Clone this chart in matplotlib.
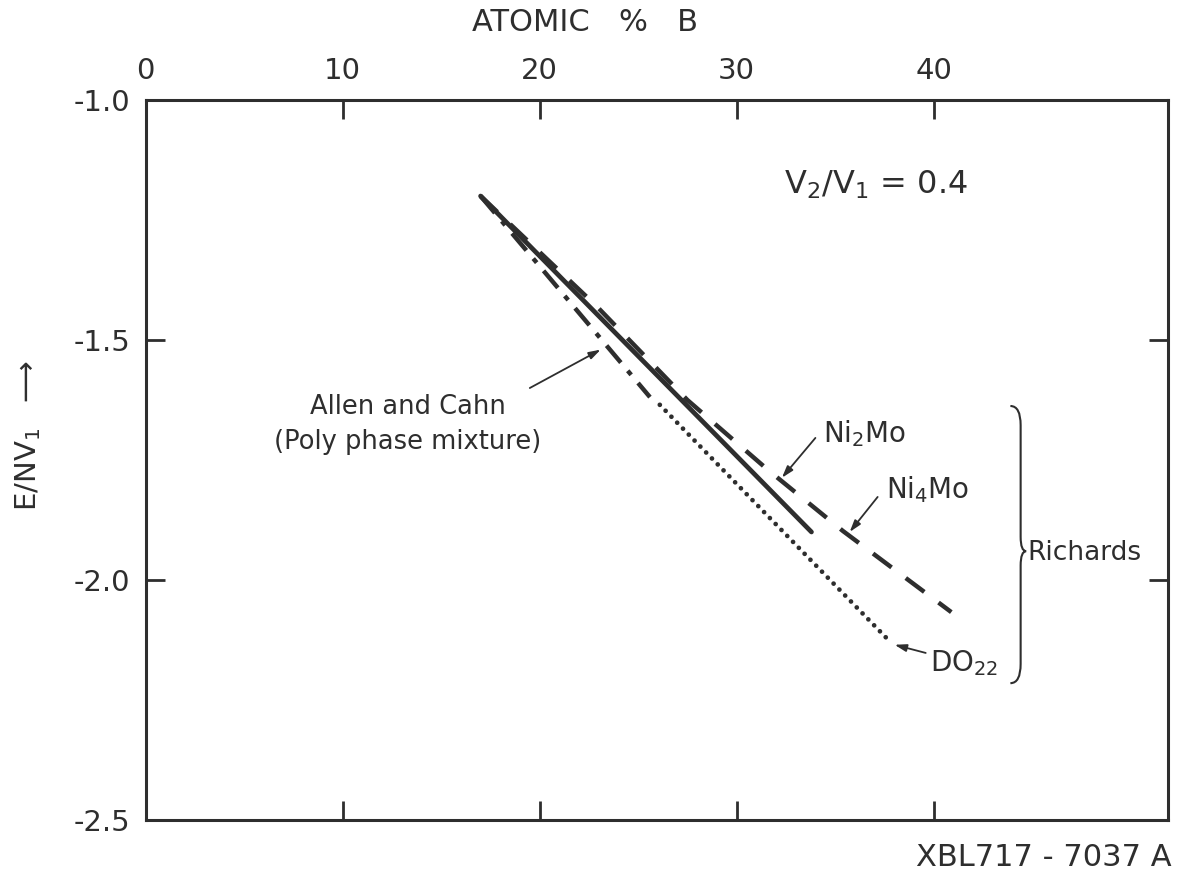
import matplotlib
matplotlib.use("Agg")
import matplotlib.pyplot as plt
from matplotlib.path import Path
from matplotlib.patches import PathPatch

plt.rcParams['font.family'] = ['DejaVu Sans']
plt.rcParams['mathtext.default'] = 'regular'

INK = '#2e2e2e'

# --- data ---
# Ni2Mo (solid)
ni2mo_x = [17.0, 33.8]
ni2mo_y = [-1.20, -1.90]
# Ni4Mo (dashed, slightly curved)
ni4mo_x = [17.0, 22.9, 27.5, 31.6, 35.4, 40.9]
ni4mo_y = [-1.20, -1.43, -1.625, -1.771, -1.898, -2.067]
# Allen and Cahn (dash-dot)
allen_x = [17.0, 25.6]
allen_y = [-1.20, -1.619]
# DO22 (dotted)
do22_x = [26.1, 37.8]
do22_y = [-1.635, -2.129]

x_ticks = [0, 10, 20, 30, 40]
y_ticks = [-1.0, -1.5, -2.0, -2.5]
y_ticklabels = ['-1.0', '-1.5', '-2.0', '-2.5']

fig = plt.figure(figsize=(11.8, 8.9), dpi=100)
ax = fig.add_axes([0.1235, 0.0787, 0.8663, 0.8089])

ax.plot(ni2mo_x, ni2mo_y, color=INK, lw=3.4, solid_capstyle='round')
ax.plot(ni4mo_x, ni4mo_y, color=INK, lw=3.2, dashes=(5.2, 4.0))
ax.plot(allen_x, allen_y, color=INK, lw=3.2, dashes=(5.0, 2.4, 1.2, 2.4))
ax.plot(do22_x, do22_y, color=INK, lw=3.4, dashes=(0.01, 1.75),
        dash_capstyle='round')

ax.set_xlim(0, 51.9)
ax.set_ylim(-2.5, -1.0)

for s in ax.spines.values():
    s.set_linewidth(2.2)
    s.set_color(INK)

ax.set_xticks(x_ticks)
ax.set_xticklabels([str(t) for t in x_ticks])
ax.set_yticks(y_ticks)
ax.set_yticklabels(y_ticklabels)
ax.tick_params(axis='x', direction='in', length=14, width=2.0, color=INK,
               top=True, bottom=True, labeltop=True, labelbottom=False,
               labelsize=21, labelcolor=INK, pad=11)
ax.tick_params(axis='y', direction='in', length=14, width=2.0, color=INK,
               left=True, right=True, labelsize=21, labelcolor=INK, pad=11)

fig.text(0.496, 0.975, 'ATOMIC   %   B', ha='center', va='center',
         fontsize=22, color=INK)
fig.text(0.024, 0.51, r'E/NV$_1$  $\longrightarrow$', rotation=90,
         ha='center', va='center', fontsize=21, color=INK)
fig.text(0.993, 0.037, 'XBL717 - 7037 A', ha='right', va='center',
         fontsize=22, color=INK)

ax.text(37.06, -1.177, r'V$_2$/V$_1$ = 0.4', ha='center', va='center',
        fontsize=23, color=INK)

arrow = dict(arrowstyle='-|>,head_length=0.7,head_width=0.22', lw=1.3,
             color=INK, shrinkA=0, shrinkB=0)

ax.text(13.3, -1.677, 'Allen and Cahn\n(Poly phase mixture)', ha='center',
        va='center', fontsize=18.5, color=INK, linespacing=1.45)
ax.annotate('', xy=(23.1, -1.52), xytext=(19.5, -1.60), arrowprops=arrow)

ax.text(36.5, -1.694, r'Ni$_2$Mo', ha='center', va='center', fontsize=20,
        color=INK)
ax.annotate('', xy=(32.3, -1.787), xytext=(34.0, -1.704), arrowprops=arrow)

ax.text(39.7, -1.8125, r'Ni$_4$Mo', ha='center', va='center', fontsize=20,
        color=INK)
ax.annotate('', xy=(35.74, -1.90), xytext=(37.16, -1.827), arrowprops=arrow)

ax.text(39.8, -2.173, r'DO$_{22}$', ha='left', va='center', fontsize=20,
        color=INK)
ax.annotate('', xy=(38.02, -2.135), xytext=(39.6, -2.152), arrowprops=arrow)

# brace for "Richards"
x0, xl, xt = 44.42, 43.9, 44.7
ytop, ymid, ybot = -1.6375, -1.94, -2.215
verts = [(xl, ytop), (x0, ytop), (x0, ytop - 0.04),
         (x0, ymid + 0.03), (x0, ymid), (xt, ymid),
         (x0, ymid), (x0, ymid - 0.03),
         (x0, ybot + 0.04), (x0, ybot), (xl, ybot)]
codes = [Path.MOVETO, Path.CURVE3, Path.CURVE3,
         Path.LINETO, Path.CURVE3, Path.CURVE3,
         Path.CURVE3, Path.CURVE3,
         Path.LINETO, Path.CURVE3, Path.CURVE3]
ax.add_patch(PathPatch(Path(verts, codes), fill=False, lw=1.5,
                       edgecolor=INK))
ax.text(44.75, -1.944, 'Richards', ha='left', va='center', fontsize=19,
        color=INK)

fig.savefig('out.png', dpi=100, facecolor='white')
